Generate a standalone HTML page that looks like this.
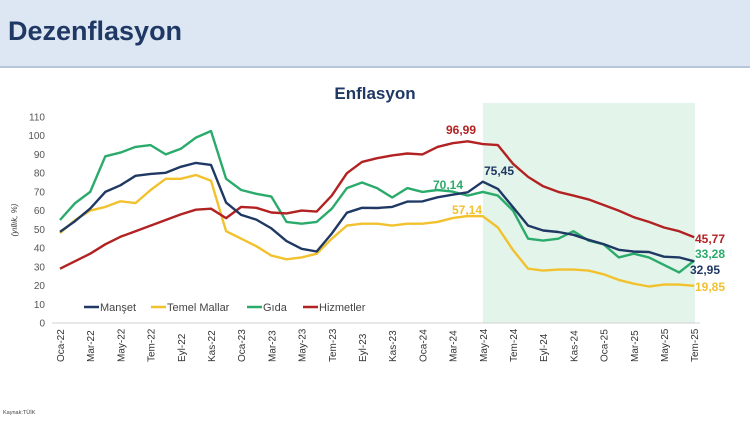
<!DOCTYPE html>
<html><head><meta charset="utf-8"><style>
body{margin:0;width:750px;height:421px;background:#fff;overflow:hidden;font-family:"Liberation Sans",sans-serif}
#hdr{position:absolute;left:0;top:0;width:750px;height:66px;background:#dde7f3;border-bottom:2px solid #b8c6da}
#hdr span{position:absolute;left:8px;top:16px;font-size:27px;font-weight:bold;color:#1f3864}
svg{position:absolute;left:0;top:0}
</style></head><body>
<div id="hdr"><span>Dezenflasyon</span></div>
<svg id="s" width="750" height="421" font-family="Liberation Sans, sans-serif">
<rect x="483" y="103" width="212" height="220" fill="#e3f5ea"/>
<text x="375" y="99" text-anchor="middle" font-size="17" font-weight="bold" fill="#1f3864">Enflasyon</text>
<line x1="52" y1="323" x2="700" y2="323" stroke="#d0d0d0" stroke-width="1"/>
<g id="yt" font-size="10" fill="#555" text-anchor="end"></g>
<g id="xt" font-size="10" fill="#333"></g>
<text transform="translate(17,220) rotate(-90)" font-size="8" font-style="italic" fill="#333" text-anchor="middle">(yıllık, %)</text>
<g id="lines" fill="none" stroke-width="2.4" stroke-linejoin="round"></g>
<g font-size="12" font-weight="bold">
<text x="446" y="134" fill="#b22222">96,99</text>
<text x="484" y="175" fill="#1f3864">75,45</text>
<text x="433" y="189" fill="#2bab6b">70,14</text>
<text x="452" y="214" fill="#f2c12e">57,14</text>
<text x="695" y="243" fill="#b22222">45,77</text>
<text x="695" y="258" fill="#2bab6b">33,28</text>
<text x="690" y="274" fill="#1f3864">32,95</text>
<text x="695" y="291" fill="#f2c12e">19,85</text>
</g>
<g font-size="11" fill="#444">
<line x1="84" y1="307" x2="99" y2="307" stroke="#1f3864" stroke-width="2.5"/><text x="100" y="311">Manşet</text>
<line x1="151" y1="307" x2="166" y2="307" stroke="#f2c12e" stroke-width="2.5"/><text x="167" y="311">Temel Mallar</text>
<line x1="247" y1="307" x2="262" y2="307" stroke="#2bab6b" stroke-width="2.5"/><text x="263" y="311">Gıda</text>
<line x1="303" y1="307" x2="318" y2="307" stroke="#b22222" stroke-width="2.5"/><text x="319" y="311">Hizmetler</text>
</g>
<text x="3" y="414" font-size="5.5" fill="#444">Kaynak:TÜİK</text>
</svg>
<script>
var X=function(i){return 60+i*15.1},Y=function(v){return 323-v*1.873};
var ns="http://www.w3.org/2000/svg",yt=document.getElementById('yt'),xt=document.getElementById('xt'),L=document.getElementById('lines');
for(var v=0;v<=110;v+=10){var t=document.createElementNS(ns,'text');t.setAttribute('x',45);t.setAttribute('y',Y(v)+3.5);t.textContent=v;yt.appendChild(t);}
var lab=["Oca-22","Mar-22","May-22","Tem-22","Eyl-22","Kas-22","Oca-23","Mar-23","May-23","Tem-23","Eyl-23","Kas-23","Oca-24","Mar-24","May-24","Tem-24","Eyl-24","Kas-24","Oca-25","Mar-25","May-25","Tem-25"];
lab.forEach(function(s,k){var t=document.createElementNS(ns,'text');var x=X(2*k)+4;t.setAttribute('transform','translate('+x+',362) rotate(-90)');t.textContent=s;xt.appendChild(t);});
var D={
"#b22222":[29,33,37,42,46,49,52,55,58,60.5,61,56,62,61.5,59,58.5,60,59.5,68,80,86,88,89.5,90.5,90,94,96,96.99,95.5,95,85,78,73,70,68,66,63,60,56.5,54,51,49,45.77],
"#f2c12e":[48,55,60,62,65,64,71,77,77,79,76,49,45,41,36,34,35,37,45,52,53,53,52,53,53,54,56,57.14,57,51,39,29,28,28.5,28.5,28,26,23,21,19.5,20.5,20.5,19.85],
"#2bab6b":[55,64,70,89,91,94,95,90,93,99,102.5,77,71,69,67.5,54,53,54,61,72,75,72,67,72,70,71,70.14,68,70,68,60,45,44,45,49,44,42,35,37,35,31,27,33.28],
"#1f3864":[48.7,54.4,61.1,70,73.5,78.6,79.6,80.2,83.4,85.5,84.4,64.3,57.7,55.2,50.5,43.7,39.6,38.2,47.8,58.9,61.5,61.4,62,64.8,64.9,67.1,68.5,69.8,75.45,71.6,61.8,52,49.4,48.6,47.1,44.4,42.1,39.1,38.1,37.9,35.4,35,32.95]};
["#f2c12e","#2bab6b","#b22222","#1f3864"].forEach(function(c){var p=document.createElementNS(ns,'polyline');p.setAttribute('points',D[c].map(function(v,i){return X(i).toFixed(1)+','+Y(v).toFixed(1)}).join(' '));p.setAttribute('stroke',c);L.appendChild(p);});
</script>
</body></html>
